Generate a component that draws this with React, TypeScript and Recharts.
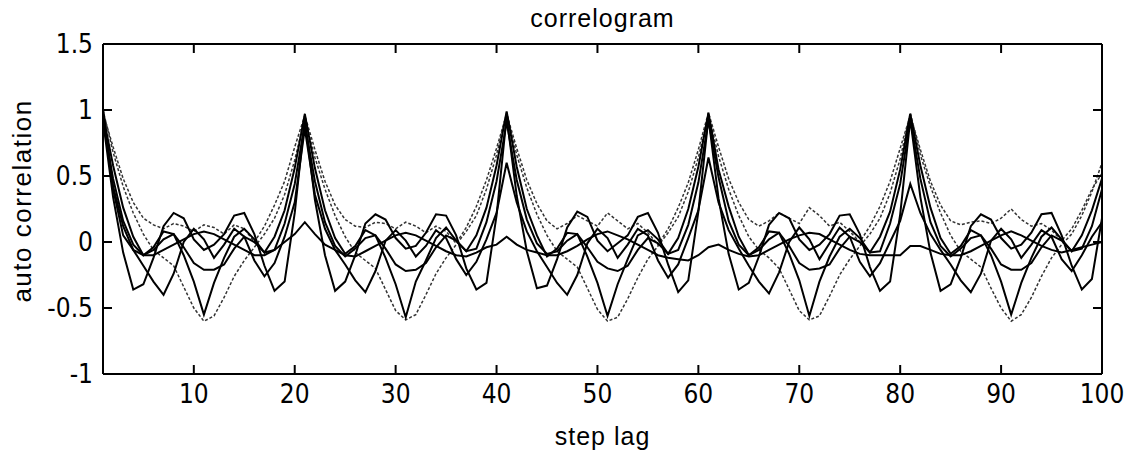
import { Label, Line, LineChart, XAxis, YAxis } from "recharts";

// lag axis 1..100
const lags = Array.from({ length: 100 }, (_, i) => i + 1);

const xTicks = [10, 20, 30, 40, 50, 60, 70, 80, 90, 100];
const yTicks = [-1, -0.5, 0, 0.5, 1, 1.5];

// deep U trough (thin dotted)
const s1 = [
  1.0, 0.68, 0.42, 0.22, 0.06, -0.06, -0.12, -0.18, -0.34, -0.5, -0.6, -0.56, -0.42, -0.26, -0.14, -0.04, 0.06, 0.18, 0.36, 0.62,
  0.94, 0.64, 0.4, 0.2, 0.04, -0.08, -0.14, -0.2, -0.36, -0.52, -0.59, -0.55, -0.4, -0.24, -0.12, -0.02, 0.08, 0.2, 0.4, 0.66,
  0.98, 0.66, 0.41, 0.21, 0.05, -0.07, -0.13, -0.19, -0.35, -0.51, -0.6, -0.57, -0.43, -0.27, -0.13, -0.03, 0.07, 0.19, 0.38, 0.64,
  0.97, 0.65, 0.4, 0.2, 0.04, -0.06, -0.12, -0.2, -0.36, -0.52, -0.59, -0.56, -0.41, -0.25, -0.13, -0.03, 0.06, 0.18, 0.37, 0.63,
  0.98, 0.66, 0.42, 0.22, 0.05, -0.07, -0.13, -0.19, -0.35, -0.5, -0.6, -0.55, -0.42, -0.26, -0.12, -0.02, 0.06, 0.2, 0.38, 0.6,
];

// narrow V trough (solid)
const s2 = [
  0.96, 0.58, 0.26, 0.04, -0.1, -0.04, 0.08, 0.06, -0.1, -0.3, -0.55, -0.31, -0.12, 0.04, 0.1, 0.02, -0.08, 0.04, 0.24, 0.56,
  0.97, 0.56, 0.24, 0.03, -0.09, -0.03, 0.09, 0.05, -0.12, -0.32, -0.57, -0.3, -0.14, 0.03, 0.11, 0.01, -0.07, 0.05, 0.26, 0.58,
  0.99, 0.57, 0.25, 0.05, -0.11, -0.05, 0.07, 0.06, -0.11, -0.31, -0.56, -0.32, -0.13, 0.05, 0.09, 0.02, -0.09, 0.03, 0.25, 0.57,
  0.98, 0.55, 0.27, 0.04, -0.1, -0.04, 0.08, 0.07, -0.09, -0.29, -0.56, -0.3, -0.11, 0.04, 0.1, 0.03, -0.08, 0.04, 0.23, 0.55,
  0.97, 0.58, 0.26, 0.03, -0.09, -0.03, 0.09, 0.05, -0.1, -0.3, -0.55, -0.31, -0.12, 0.04, 0.11, 0.02, -0.07, 0.05, 0.24, 0.48,
];

// flat trough near -0.2 (solid)
const s3 = [
  0.92, 0.48, 0.16, -0.02, -0.1, -0.06, 0.02, 0.06, -0.04, -0.16, -0.21, -0.21, -0.17, -0.05, 0.04, 0.0, -0.08, -0.06, 0.14, 0.44,
  0.9, 0.46, 0.15, -0.03, -0.11, -0.05, 0.03, 0.05, -0.05, -0.17, -0.22, -0.21, -0.16, -0.04, 0.05, 0.01, -0.07, -0.05, 0.15, 0.46,
  0.91, 0.47, 0.17, -0.01, -0.09, -0.07, 0.01, 0.06, -0.04, -0.15, -0.2, -0.22, -0.18, -0.06, 0.03, -0.01, -0.09, -0.06, 0.13, 0.45,
  0.92, 0.49, 0.16, -0.02, -0.1, -0.06, 0.02, 0.07, -0.03, -0.16, -0.21, -0.2, -0.17, -0.05, 0.04, 0.0, -0.08, -0.07, 0.14, 0.44,
  0.93, 0.48, 0.15, -0.03, -0.11, -0.05, 0.03, 0.05, -0.05, -0.17, -0.21, -0.21, -0.16, -0.04, 0.05, 0.01, -0.07, -0.05, 0.12, 0.4,
];

// stays above zero between peaks (thin dotted)
const s4 = [
  0.98, 0.72, 0.48, 0.3, 0.18, 0.13, 0.1, 0.14, 0.12, 0.08, 0.13, 0.11, 0.06, 0.13, 0.1, 0.0, 0.12, 0.28, 0.46, 0.72,
  0.96, 0.7, 0.46, 0.28, 0.17, 0.12, 0.11, 0.15, 0.14, 0.1, 0.15, 0.12, 0.07, 0.12, 0.08, -0.01, 0.11, 0.27, 0.47, 0.71,
  0.97, 0.71, 0.47, 0.29, 0.16, 0.1, 0.14, 0.2, 0.16, 0.12, 0.22, 0.16, 0.1, 0.14, 0.07, -0.02, 0.1, 0.26, 0.45, 0.7,
  0.98, 0.72, 0.48, 0.3, 0.17, 0.12, 0.16, 0.22, 0.18, 0.14, 0.26, 0.2, 0.12, 0.15, 0.08, 0.0, 0.12, 0.27, 0.46, 0.71,
  0.96, 0.7, 0.46, 0.28, 0.16, 0.13, 0.15, 0.16, 0.14, 0.18, 0.25, 0.17, 0.12, 0.14, 0.09, 0.01, 0.1, 0.24, 0.4, 0.52,
];

// fast ripple, troughs near -0.37 (solid)
const s5 = [
  0.92, 0.34, -0.08, -0.36, -0.32, -0.12, 0.12, 0.22, 0.18, 0.02, -0.06, -0.02, 0.06, 0.2, 0.22, 0.06, -0.18, -0.37, -0.3, 0.22,
  0.93, 0.32, -0.1, -0.37, -0.3, -0.1, 0.14, 0.21, 0.17, 0.03, -0.05, -0.03, 0.07, 0.21, 0.2, 0.05, -0.2, -0.36, -0.31, 0.2,
  0.95, 0.35, -0.07, -0.35, -0.33, -0.13, 0.11, 0.23, 0.19, 0.01, -0.07, -0.01, 0.05, 0.19, 0.22, 0.07, -0.17, -0.38, -0.29, 0.23,
  0.94, 0.33, -0.09, -0.36, -0.31, -0.11, 0.13, 0.22, 0.18, 0.02, -0.06, -0.02, 0.06, 0.2, 0.21, 0.06, -0.19, -0.37, -0.3, 0.21,
  0.93, 0.34, -0.08, -0.37, -0.32, -0.12, 0.12, 0.21, 0.17, 0.03, -0.05, -0.02, 0.07, 0.21, 0.22, 0.05, -0.18, -0.36, -0.28, 0.18,
];

// weak series, small bumps only (solid)
const s6 = [
  1.0, 0.4, 0.05, -0.06, -0.1, -0.1, -0.06, -0.02, 0.02, 0.06, 0.08, 0.06, 0.02, -0.02, -0.06, -0.1, -0.1, -0.06, 0.0, 0.06,
  0.15, 0.06, -0.02, -0.06, -0.1, -0.11, -0.07, -0.03, 0.01, 0.05, 0.07, 0.05, 0.01, -0.03, -0.07, -0.1, -0.11, -0.08, -0.04, -0.02,
  0.04, -0.02, -0.06, -0.08, -0.1, -0.1, -0.07, -0.03, 0.02, 0.06, 0.08, 0.05, 0.02, -0.02, -0.06, -0.1, -0.12, -0.13, -0.14, -0.1,
  -0.04, -0.02, -0.06, -0.09, -0.11, -0.1, -0.06, -0.02, 0.02, 0.05, 0.07, 0.06, 0.02, -0.02, -0.06, -0.09, -0.1, -0.1, -0.1, -0.1,
  -0.03, -0.03, -0.06, -0.09, -0.1, -0.1, -0.07, -0.03, 0.01, 0.05, 0.08, 0.05, 0.01, -0.03, -0.06, -0.08, -0.06, -0.04, -0.02, 0.0,
];

// decaying peaks (solid)
const s7 = [
  1.0, 0.42, 0.12, -0.06, -0.18, -0.3, -0.4, -0.24, 0.0, 0.1, 0.02, -0.12, -0.02, 0.1, 0.04, -0.14, -0.26, -0.16, 0.04, 0.3,
  0.86, 0.36, 0.1, -0.06, -0.17, -0.29, -0.38, -0.22, 0.01, 0.09, 0.01, -0.11, -0.03, 0.09, 0.03, -0.13, -0.25, -0.15, 0.02, 0.22,
  0.6, 0.3, 0.08, -0.07, -0.19, -0.31, -0.4, -0.25, -0.01, 0.1, 0.03, -0.12, -0.02, 0.1, 0.05, -0.14, -0.27, -0.17, 0.03, 0.24,
  0.64, 0.3, 0.09, -0.05, -0.18, -0.3, -0.39, -0.23, 0.0, 0.11, 0.02, -0.13, -0.01, 0.11, 0.04, -0.15, -0.26, -0.16, 0.0, 0.16,
  0.44, 0.22, 0.06, -0.06, -0.17, -0.29, -0.38, -0.24, 0.01, 0.1, 0.02, -0.12, -0.02, 0.09, 0.04, -0.13, -0.22, -0.1, 0.04, 0.15,
];

const data = lags.map((lag, i) => ({
  lag,
  s1: s1[i],
  s2: s2[i],
  s3: s3[i],
  s4: s4[i],
  s5: s5[i],
  s6: s6[i],
  s7: s7[i],
}));

const series = [
  { key: "s1", dashed: true },
  { key: "s4", dashed: true },
  { key: "s6", dashed: false },
  { key: "s7", dashed: false },
  { key: "s3", dashed: false },
  { key: "s2", dashed: false },
  { key: "s5", dashed: false },
];

const tickFont = "'Liberation Sans Narrow', 'DejaVu Sans Condensed', sans-serif";
const labelFont = "'Liberation Sans', Arial, sans-serif";

function BottomTick({ x, y, payload }: any) {
  return (
    <g>
      <line x1={x} y1={y} x2={x} y2={y - 9} stroke="#000" strokeWidth={2} />
      <text x={x} y={y + 29} textAnchor="middle" fontSize={26} fontFamily={tickFont} fill="#000">
        {payload.value}
      </text>
    </g>
  );
}

function TopTick({ x, y }: any) {
  return <line x1={x} y1={y} x2={x} y2={y + 9} stroke="#000" strokeWidth={2} />;
}

function LeftTick({ x, y, payload }: any) {
  return (
    <g>
      <line x1={x} y1={y} x2={x + 9} y2={y} stroke="#000" strokeWidth={2} />
      <text x={x - 10} y={y + 9} textAnchor="end" fontSize={26} fontFamily={tickFont} fill="#000">
        {payload.value}
      </text>
    </g>
  );
}

function RightTick({ x, y }: any) {
  return <line x1={x} y1={y} x2={x - 9} y2={y} stroke="#000" strokeWidth={2} />;
}

function YTitle({ viewBox }: any) {
  const cx = viewBox.x - 21;
  const cy = viewBox.y + viewBox.height / 2 - 8;
  return (
    <text
      x={cx}
      y={cy}
      transform={`rotate(-90, ${cx}, ${cy})`}
      textAnchor="middle"
      dominantBaseline="central"
      fontSize={26}
      letterSpacing={1.5}
      fontFamily={labelFont}
      fill="#000"
    >
      auto correlation
    </text>
  );
}

const labelStyle = { fontSize: 25, letterSpacing: 1, fontFamily: labelFont, fill: "#000" };

export default function App() {
  return (
    <div style={{ position: "absolute", left: 0, top: 0, background: "#fff" }}>
      <LineChart width={1128} height={452} data={data} margin={{ top: 43, right: 25, bottom: 48, left: 43 }}>
        <XAxis
          dataKey="lag"
          type="number"
          domain={[1, 100]}
          ticks={xTicks}
          interval={0}
          height={30}
          tickSize={0}
          tickMargin={0}
          tickLine={false}
          tick={<BottomTick />}
          axisLine={{ stroke: "#000", strokeWidth: 2 }}
        >
          <Label value="step lag" position="bottom" offset={23} style={labelStyle} />
        </XAxis>
        <XAxis
          xAxisId="top"
          orientation="top"
          dataKey="lag"
          type="number"
          domain={[1, 100]}
          ticks={xTicks}
          interval={0}
          height={1}
          tickSize={0}
          tickMargin={0}
          tickLine={false}
          tick={<TopTick />}
          axisLine={{ stroke: "#000", strokeWidth: 2 }}
        >
          <Label value="correlogram" position="top" offset={16} style={labelStyle} />
        </XAxis>
        <YAxis
          type="number"
          domain={[-1, 1.5]}
          ticks={yTicks}
          interval={0}
          width={60}
          tickSize={0}
          tickMargin={0}
          tickLine={false}
          tick={<LeftTick />}
          axisLine={{ stroke: "#000", strokeWidth: 2 }}
        >
          <Label content={<YTitle />} />
        </YAxis>
        <YAxis
          yAxisId="right"
          orientation="right"
          type="number"
          domain={[-1, 1.5]}
          ticks={yTicks}
          interval={0}
          width={1}
          tickSize={0}
          tickMargin={0}
          tickLine={false}
          tick={<RightTick />}
          axisLine={{ stroke: "#000", strokeWidth: 2 }}
        />
        {series.map((s) => (
          <Line
            key={s.key}
            dataKey={s.key}
            type="linear"
            stroke={s.dashed ? "#333" : "#000"}
            strokeWidth={s.dashed ? 1.5 : 2}
            strokeDasharray={s.dashed ? "3 2" : undefined}
            dot={false}
            isAnimationActive={false}
          />
        ))}
        <Line
          dataKey="s1"
          xAxisId="top"
          yAxisId="right"
          stroke="none"
          dot={false}
          activeDot={false}
          isAnimationActive={false}
        />
      </LineChart>
    </div>
  );
}
